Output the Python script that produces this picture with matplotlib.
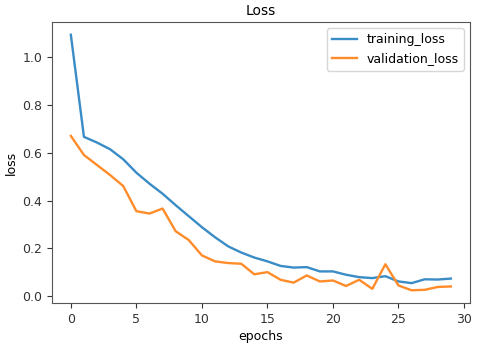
import numpy as np
import matplotlib
matplotlib.use("Agg")
import matplotlib.pyplot as plt

epochs = np.arange(30)
training_loss = [1.094, 0.667, 0.643, 0.615, 0.573, 0.517, 0.471, 0.429, 0.381, 0.335,
                 0.289, 0.247, 0.209, 0.183, 0.162, 0.146, 0.127, 0.120, 0.122, 0.104,
                 0.104, 0.090, 0.080, 0.076, 0.084, 0.062, 0.055, 0.071, 0.070, 0.074]
validation_loss = [0.671, 0.591, 0.549, 0.507, 0.461, 0.356, 0.346, 0.367, 0.272, 0.235,
                   0.171, 0.146, 0.139, 0.136, 0.092, 0.101, 0.069, 0.057, 0.087, 0.062,
                   0.066, 0.043, 0.069, 0.031, 0.134, 0.045, 0.025, 0.027, 0.039, 0.041]

fig = plt.figure(figsize=(4.8, 3.44), dpi=100)
ax = fig.add_axes([0.108, 0.119, 0.871, 0.817])

ax.plot(epochs, training_loss, color="#3a8cc6", lw=1.7, label="training_loss")
ax.plot(epochs, validation_loss, color="#ff8c2a", lw=1.7, label="validation_loss")

ax.set_title("Loss", fontsize=10, pad=5)
ax.set_xlabel("epochs", fontsize=9, labelpad=3)
ax.set_ylabel("loss", fontsize=9, labelpad=3)
ax.tick_params(labelsize=9, colors="#333333")
ax.set_xticks([0, 5, 10, 15, 20, 25, 30])
ax.set_yticks([0.0, 0.2, 0.4, 0.6, 0.8, 1.0])
ax.legend(fontsize=9)
for s in ax.spines.values():
    s.set_color("#555555")

fig.savefig("out.png", dpi=100)
